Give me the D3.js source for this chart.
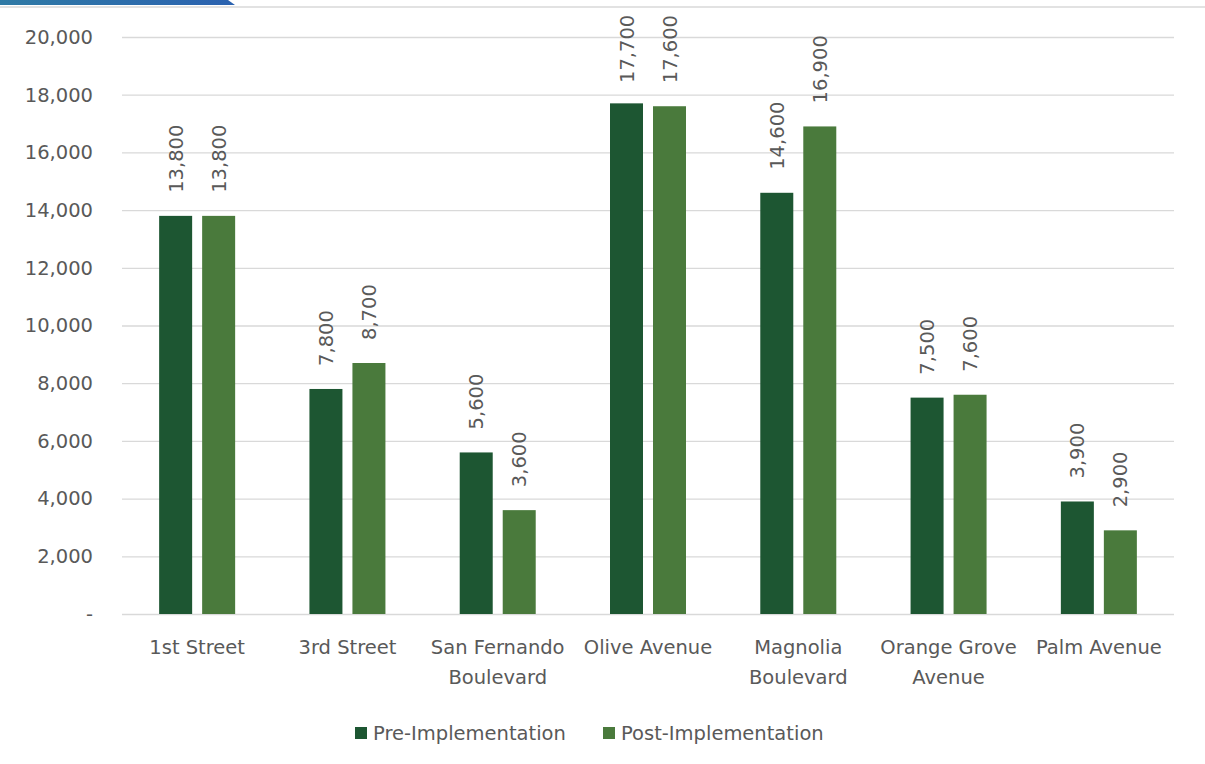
<!DOCTYPE html>
<html>
<head>
<meta charset="utf-8">
<script src="https://cdn.jsdelivr.net/npm/d3@7"></script>
<style>
  body { margin: 0; background: #fff; }
  text { font-family: "DejaVu Sans", sans-serif; fill: #595959; }
</style>
</head>
<body>
<div id="chart"></div>
<script>
// streets along the x axis (line breaks as in the picture)
var streets = [["1st Street"], ["3rd Street"], ["San Fernando", "Boulevard"], ["Olive Avenue"],
               ["Magnolia", "Boulevard"], ["Orange Grove", "Avenue"], ["Palm Avenue"]];
var seriesNames = ["Pre-Implementation", "Post-Implementation"];
var preValues = [13800, 7800, 5600, 17700, 14600, 7500, 3900];
var postValues = [13800, 8700, 3600, 17600, 16900, 7600, 2900];
var yTicks = [0, 2000, 4000, 6000, 8000, 10000, 12000, 14000, 16000, 18000, 20000];
var colors = ["#1d5632", "#4a7a3c"];

var svgWidth = 1205, svgHeight = 764;
var margin = { top: 37, right: 31, bottom: 150, left: 122 };
var width = svgWidth - margin.left - margin.right;
var height = svgHeight - margin.top - margin.bottom;
var fs = "19.5px";

var svg = d3.select("#chart").append("svg")
  .attr("width", svgWidth).attr("height", svgHeight);

// little banner bits at the very top
var grad = svg.append("defs").append("linearGradient").attr("id", "band");
grad.append("stop").attr("offset", "0%").attr("stop-color", "#2f7aa5");
grad.append("stop").attr("offset", "100%").attr("stop-color", "#2b62b0");
svg.append("path").attr("d", "M0,0 H228 L235,5 H0 Z").attr("fill", "url(#band)");
svg.append("line").attr("x1", 0).attr("x2", svgWidth).attr("y1", 7).attr("y2", 7)
  .attr("stroke", "#d9d9d9").attr("stroke-width", 1.5);

var g = svg.append("g").attr("transform", `translate(${margin.left},${margin.top})`);

var x0 = d3.scaleBand().domain(d3.range(streets.length)).range([0, width]).paddingInner(0).paddingOuter(0);
var y = d3.scaleLinear().domain([0, 20000]).range([height, 0]);
var barW = 33, gap = 10;

// gridlines
g.selectAll(".grid").data(yTicks).enter().append("line")
  .attr("x1", 0).attr("x2", width)
  .attr("y1", d => y(d) + 0.5).attr("y2", d => y(d) + 0.5)
  .attr("stroke", "#d9d9d9").attr("stroke-width", 1.3);

// y labels
var fmt = d3.format(",");
g.selectAll(".ylab").data(yTicks).enter().append("text")
  .attr("x", -29).attr("y", d => y(d)).attr("dy", "0.35em")
  .attr("text-anchor", "end").style("font-size", fs)
  .text(d => d === 0 ? "-" : fmt(d));

var series = [preValues, postValues];
series.forEach(function (vals, s) {
  var offset = s === 0 ? -(barW + gap) / 2 : (barW + gap) / 2;
  g.selectAll(".bar" + s).data(vals).enter().append("rect")
    .attr("x", (d, i) => x0(i) + x0.bandwidth() / 2 + offset - barW / 2)
    .attr("width", barW)
    .attr("y", d => y(d)).attr("height", d => height - y(d))
    .attr("fill", colors[s]);
  // labels get pushed down a bit when they would run off the top
  g.selectAll(".lab" + s).data(vals).enter().append("text")
    .attr("transform", (d, i) => `translate(${x0(i) + x0.bandwidth() / 2 + offset + 7},${Math.max(y(d) - 23, 46)}) rotate(-90)`)
    .attr("text-anchor", "start").style("font-size", fs)
    .text(d => fmt(d));
});

// category labels
streets.forEach(function (lines, i) {
  var t = g.append("text").attr("text-anchor", "middle").style("font-size", fs)
    .attr("transform", `translate(${x0(i) + x0.bandwidth() / 2},${height + 40})`);
  lines.forEach(function (ln, k) {
    t.append("tspan").attr("x", 0).attr("dy", k === 0 ? 0 : 30).text(ln);
  });
});

// legend
var legendX = [355, 603];
seriesNames.forEach(function (name, s) {
  svg.append("rect").attr("x", legendX[s]).attr("y", 727).attr("width", 12).attr("height", 12)
    .attr("fill", colors[s]);
  svg.append("text").attr("x", legendX[s] + 18).attr("y", 733).attr("dy", "0.35em")
    .style("font-size", fs).text(name);
});
</script>
</body>
</html>
